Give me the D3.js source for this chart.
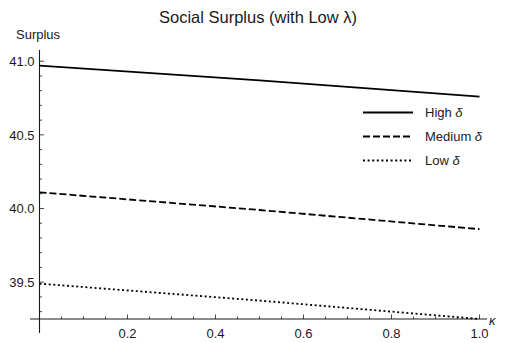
<!DOCTYPE html>
<html>
<head>
<meta charset="utf-8">
<script src="https://cdn.jsdelivr.net/npm/d3@7"></script>
<style>
  html, body { margin: 0; padding: 0; background: #fff; }
  svg { display: block; font-family: "Liberation Sans", Arial, sans-serif; }
</style>
</head>
<body>
<svg id="chart" width="506" height="343"></svg>
<script>
// kappa sample points and social surplus for each delta level
const kappa = [0, 0.5, 1.0];
const highDelta = [40.97, 40.87, 40.76];
const mediumDelta = [40.11, 39.99, 39.86];
const lowDelta = [39.49, 39.375, 39.25];

const seriesNames = ["High δ", "Medium δ", "Low δ"];
const xTickValues = [0.2, 0.4, 0.6, 0.8, 1.0];
const yTickValues = [39.5, 40.0, 40.5, 41.0];

const svg = d3.select("#chart");
const x = d3.scaleLinear().domain([0, 1]).range([39.5, 479.5]);
const y = d3.scaleLinear().domain([39.25, 41.0]).range([319, 61.2]);

const ink = "#1a1a1a";

// title
svg.append("text").attr("x", 258).attr("y", 23).attr("text-anchor", "middle")
  .attr("font-size", 16.5).attr("fill", ink)
  .text("Social Surplus (with Low λ)");

// axis labels
svg.append("text").attr("x", 16).attr("y", 39).attr("font-size", 13).attr("fill", ink).text("Surplus");
svg.append("text").attr("x", 489).attr("y", 325).attr("font-size", 13).attr("font-style", "italic")
  .attr("fill", ink).text("κ");

// axis lines
const axisG = svg.append("g").attr("stroke", ink).attr("stroke-width", 1.1);
axisG.append("line").attr("x1", x(0)).attr("x2", x(0)).attr("y1", 50).attr("y2", 333);
axisG.append("line").attr("x1", 30).attr("x2", 487).attr("y1", y(39.25)).attr("y2", y(39.25));

// x ticks (major every 0.2, minor every 0.05), pointing up
const xMinor = d3.range(1, 21).map(i => i * 0.05);
svg.append("g").selectAll("line").data(xMinor).join("line")
  .attr("x1", d => x(d)).attr("x2", d => x(d))
  .attr("y1", y(39.25))
  .attr("y2", d => y(39.25) - (Math.abs(d * 5 - Math.round(d * 5)) < 1e-6 ? 4.5 : 2.5))
  .attr("stroke", ink).attr("stroke-width", 0.8);
svg.append("g").selectAll("text").data(xTickValues).join("text")
  .attr("x", d => x(d)).attr("y", 338).attr("text-anchor", "middle")
  .attr("font-size", 13).attr("fill", ink).text(d => d3.format(".1f")(d));

// y ticks (major every 0.5, minor every 0.1), pointing right
const yMinor = d3.range(0, 19).map(i => +(39.3 + i * 0.1).toFixed(2)).filter(v => v <= 41.05);
svg.append("g").selectAll("line").data(yMinor).join("line")
  .attr("x1", x(0))
  .attr("x2", d => x(0) + (Math.abs(d * 2 - Math.round(d * 2)) < 1e-6 ? 4.5 : 2.5))
  .attr("y1", d => y(d)).attr("y2", d => y(d))
  .attr("stroke", ink).attr("stroke-width", 0.8);
svg.append("g").selectAll("text").data(yTickValues).join("text")
  .attr("x", 34.5).attr("y", d => y(d)).attr("dy", "0.36em").attr("text-anchor", "end")
  .attr("font-size", 13).attr("fill", ink).text(d => d3.format(".1f")(d));

// series curves
const dashes = [null, "7,3", "2,2.6"];
const seriesValues = [highDelta, mediumDelta, lowDelta];
const line = d3.line().x(d => x(d[0])).y(d => y(d[1]));
seriesValues.forEach((vals, i) => {
  svg.append("path")
    .datum(kappa.map((k, j) => [k, vals[j]]))
    .attr("d", line)
    .attr("fill", "none").attr("stroke", "#000").attr("stroke-width", 1.8)
    .attr("stroke-dasharray", dashes[i]);
});

// legend
const legend = svg.append("g");
seriesNames.forEach((name, i) => {
  const ly = 112.5 + i * 24;
  legend.append("line").attr("x1", 363).attr("x2", 413).attr("y1", ly).attr("y2", ly)
    .attr("stroke", "#000").attr("stroke-width", 1.8).attr("stroke-dasharray", dashes[i]);
  const t = legend.append("text").attr("x", 425).attr("y", ly).attr("dy", "0.36em")
    .attr("font-size", 13).attr("fill", ink);
  const parts = name.split(" ");
  t.append("tspan").text(parts[0] + " ");
  t.append("tspan").attr("font-style", "italic").text(parts[1]);
});
</script>
</body>
</html>
